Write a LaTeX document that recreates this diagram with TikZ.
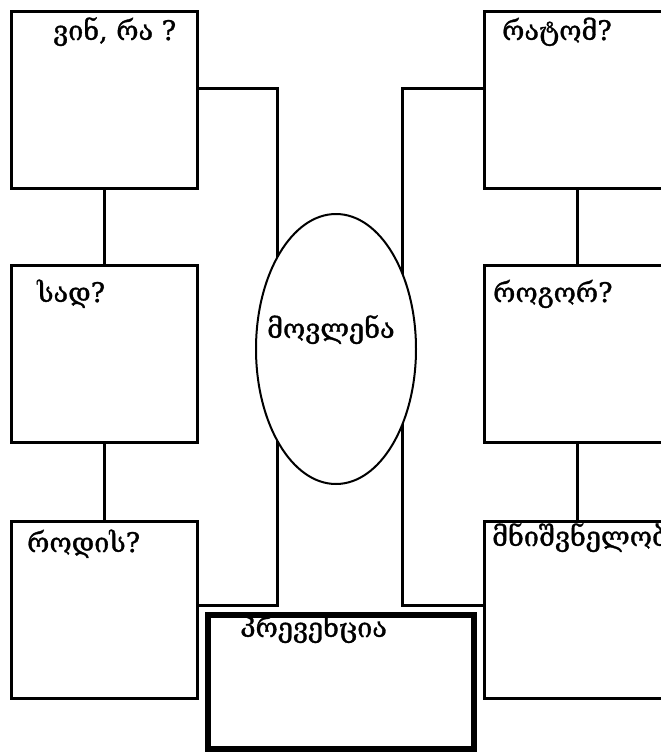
\documentclass[tikz,border=0pt]{standalone}
\usepackage{fontspec}
\newfontfamily\geofont[FakeBold=1.2]{DejaVu Serif}
\usetikzlibrary{shapes.geometric}
\begin{document}
\begin{tikzpicture}[x=1pt, y=-1pt,
  box/.style={draw, line width=3pt, rectangle, minimum width=186pt, minimum height=177pt},
  lbl/.style={anchor=base west, inner sep=0pt, font=\geofont\fontsize{27}{32}\selectfont},
  wire/.style={line width=3pt}]
\useasboundingbox (0,0) rectangle (661,753);
\clip (0,0) rectangle (661,753);
\node[box] (who) at (104,100) {};
\node[box] (where) at (104,354) {};
\node[box] (when) at (104,610) {};
\node[box] (why) at (577,100) {};
\node[box] (how) at (577,354) {};
\node[box] (meaning) at (577,610) {};
\node[lbl] (who-t) at (53,40) {ვინ, რა ?};
\node[lbl] (where-t) at (37,302) {სად?};
\node[lbl] (when-t) at (27,552) {როდის?};
\node[lbl] (why-t) at (502,40) {რატომ?};
\node[lbl] (how-t) at (493,302) {როგორ?};
\node[lbl] (meaning-t) at (492,546) {მნიშვნელობა};
\coordinate (lt) at (277,88);
\coordinate (lb) at (277,605);
\coordinate (rt) at (402,88);
\coordinate (rb) at (402,605);
\draw[wire] (who) -- (where);
\draw[wire] (where) -- (when);
\draw[wire] (why) -- (how);
\draw[wire] (how) -- (meaning);
\draw[wire] (who.east |- lt) -- (lt) -- (lb) -- (lb -| when.east);
\draw[wire] (why.west |- rt) -- (rt) -- (rb) -- (rb -| meaning.west);
\node[draw, ellipse, line width=2pt, fill=white, minimum width=160pt, minimum height=270pt] (event) at (336,349) {};
\node[lbl] (event-t) at (267,338) {მოვლენა};
\node[draw, rectangle, line width=5.5pt, fill=white, minimum width=266pt, minimum height=134pt] (prevent) at (341,682) {};
\node[lbl] (prevent-t) at (240,637) {პრევენცია};
\end{tikzpicture}
\end{document}
